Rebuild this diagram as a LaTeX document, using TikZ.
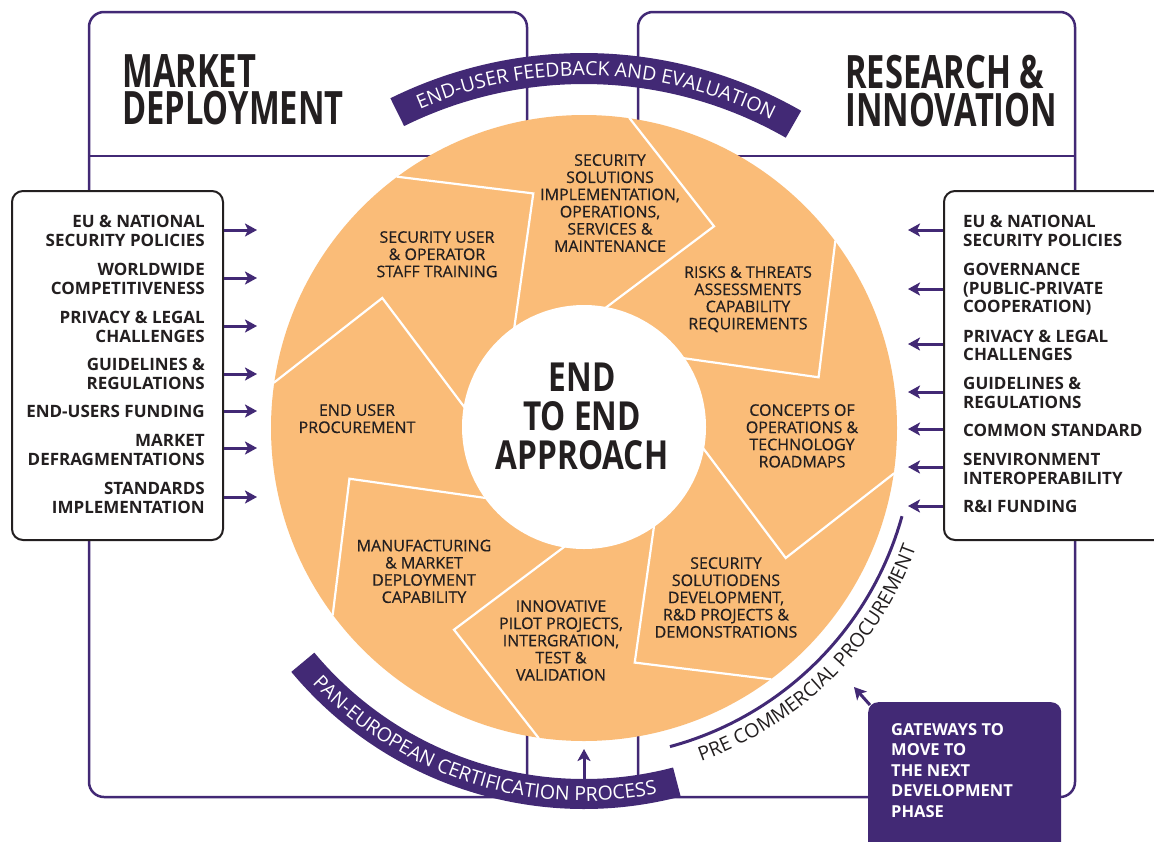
\documentclass[tikz,border=0pt]{standalone}
\usepackage{fontspec}
\setmainfont{Open Sans}
\newfontfamily\condfont{Open Sans}[FakeStretch=0.71]
\newfontfamily\corefont{Open Sans}[FakeStretch=0.79]
\newfontfamily\segfont{Open Sans}[FakeBold=0.5]
\usetikzlibrary{arrows.meta,decorations.text}
\definecolor{pur}{RGB}{66,41,117}
\definecolor{org}{RGB}{250,188,120}
\definecolor{ink}{RGB}{35,31,32}
\newcommand{\bandfont}{\fontsize{19.5}{19.5}\selectfont}
\begin{document}
\begin{tikzpicture}[x=1pt,y=1pt,
  frame/.style={draw=pur,line width=2.5pt,rounded corners=15pt},
  divider/.style={draw=pur,line width=2.5pt},
  sidebox/.style={draw=ink,line width=2pt,rounded corners=11pt,fill=white,inner sep=0pt,anchor=north west},
  sep/.style={draw=white,line width=2.2pt},
  seglabel/.style={anchor=north,inner sep=0pt,align=center,font=\segfont\fontsize{16}{17.2}\selectfont,text=ink},
  lefttxt/.style={anchor=north east,inner sep=0pt,align=right,font=\fontsize{17}{18.7}\selectfont\bfseries,text=ink},
  righttxt/.style={anchor=north west,inner sep=0pt,align=left,font=\fontsize{17}{18.7}\selectfont\bfseries,text=ink},
  title/.style={anchor=north west,inner sep=0pt,align=left,font=\condfont\bfseries\fontsize{46}{37.5}\selectfont,text=ink},
  inarrow/.style={draw=pur,line width=3pt,-{Stealth[length=12pt,width=13pt,inset=3pt]}},
  band/.style={fill=pur},
]
\useasboundingbox (0,0) rectangle (1154,-841);
\fill[white] (0,0) rectangle (1154,-841);

% frames
\draw[frame] (89,-12) rectangle (527,-797);
\draw[divider] (89,-156) -- (527,-156);
\draw[frame] (638,-12) rectangle (1075,-797);
\draw[divider] (638,-156) -- (1075,-156);

% titles
\node[title] (tmd) at (122,-54) {MARKET\\DEPLOYMENT};
\node[title] (tri) at (845,-55) {RESEARCH \&\\INNOVATION};

% disk
\node[circle,fill=org,minimum size=626pt,inner sep=0pt] (disk) at (584,-428) {};
\foreach \t in {0,...,7}{
  \pgfmathsetmacro{\a}{126.7-45*\t}
  \pgfmathsetmacro{\b}{\a-24.5}
  \draw[sep,line join=miter] ([shift={(584,-428)}]\a:118pt) -- ([shift={(584,-428)}]\b:240pt) -- ([shift={(584,-428)}]\a:313.5pt);
}
\node[circle,fill=white,minimum size=244pt,inner sep=0pt] (core) at (584,-427) {};
\node[anchor=north,inner sep=0pt,align=center,font=\corefont\bfseries\fontsize{40}{38.8}\selectfont,text=ink] (coretxt) at (582,-363) {END\\TO END\\APPROACH};

% segment labels
\node[seglabel] (s1) at (610,-154) {SECURITY\\SOLUTIONS\\IMPLEMENTATION,\\OPERATIONS,\\SERVICES \&\\MAINTENANCE};
\node[seglabel] (s2) at (437,-231) {SECURITY USER\\\& OPERATOR\\STAFF TRAINING};
\node[seglabel] (s3) at (748,-266) {RISKS \& THREATS\\ASSESSMENTS\\CAPABILITY\\REQUIREMENTS};
\node[seglabel] (s4) at (802,-404) {CONCEPTS OF\\OPERATIONS \&\\TECHNOLOGY\\ROADMAPS};
\node[seglabel] (s5) at (726,-557) {SECURITY\\SOLUTIODENS\\DEVELOPMENT,\\R\&D PROJECTS \&\\DEMONSTRATIONS};
\node[seglabel] (s6) at (561,-600) {INNOVATIVE\\PILOT PROJECTS,\\INTERGRATION,\\TEST \&\\VALIDATION};
\node[seglabel] (s7) at (424,-539.5) {MANUFACTURING\\\& MARKET\\DEPLOYMENT\\CAPABILITY};
\node[seglabel] (s8) at (357,-404) {END USER\\PROCUREMENT};

% feedback band
\fill[band] ([shift={(584,-490)}]60.2:406pt) arc[start angle=60.2,end angle=116.3,radius=406pt]
  -- ([shift={(584,-490)}]116.3:437pt) arc[start angle=116.3,end angle=60.2,radius=437pt] -- cycle;
\path[decorate,decoration={text along path,text={|\bandfont|END-USER FEEDBACK AND EVALUATION},text align=center,text color=white}]
  ([shift={(584,-490)}]116.3:414.5pt) arc[start angle=116.3,end angle=60.2,radius=414.5pt];

% pan-european band
\fill[band] ([shift={(584,-428)}]-140.2:351pt) arc[start angle=-140.2,end angle=-75.3,radius=351pt]
  -- ([shift={(584,-428)}]-75.3:381pt) arc[start angle=-75.3,end angle=-140.2,radius=381pt] -- cycle;
\path[decorate,decoration={text along path,text={|\bandfont|PAN-EUROPEAN CERTIFICATION PROCESS},text align=center,text color=white}]
  ([shift={(584,-428)}]-139.5:373pt) arc[start angle=-139.5,end angle=-76,radius=373pt];

% pre commercial procurement
\draw[pur,line width=3pt] ([shift={(584,-428)}]-74.9:330pt) arc[start angle=-74.9,end angle=-15.5,radius=330pt];
\path[decorate,decoration={text along path,text={|\bandfont|PRE COMMERCIAL PROCUREMENT},text align=center,text color=ink}]
  ([shift={(584,-428)}]-75:353pt) arc[start angle=-75,end angle=-15.5,radius=353pt];

% up arrow
\coordinate (upbase) at (584,-779);
\coordinate (uptip) at (584,-749);
\draw[inarrow] (upbase) -- (uptip);

% side boxes
\node[sidebox,minimum width=211pt,minimum height=349pt] (lbox) at (11,-190) {};
\node[sidebox,minimum width=240pt,minimum height=349pt] (rbox) at (943,-190) {};

\node[lefttxt] (l1) at (205,-215) {EU \& NATIONAL\\SECURITY POLICIES};
\node[lefttxt] (l2) at (205,-263) {WORLDWIDE\\COMPETITIVENESS};
\node[lefttxt] (l3) at (205,-311) {PRIVACY \& LEGAL\\CHALLENGES};
\node[lefttxt] (l4) at (205,-358) {GUIDELINES \&\\REGULATIONS};
\node[lefttxt] (l5) at (205,-405) {END-USERS FUNDING};
\node[lefttxt] (l6) at (205,-434.5) {MARKET\\DEFRAGMENTATIONS};
\node[lefttxt] (l7) at (205,-482) {STANDARDS\\IMPLEMENTATION};

\node[righttxt] (r1) at (963,-215) {EU \& NATIONAL\\SECURITY POLICIES};
\node[righttxt] (r2) at (963,-263) {GOVERNANCE\\(PUBLIC-PRIVATE\\COOPERATION)};
\node[righttxt] (r3) at (963,-329.5) {PRIVACY \& LEGAL\\CHALLENGES};
\node[righttxt] (r4) at (963,-377) {GUIDELINES \&\\REGULATIONS};
\node[righttxt] (r5) at (963,-423.5) {COMMON STANDARD};
\node[righttxt] (r6) at (963,-453) {SENVIRONMENT\\INTEROPERABILITY};
\node[righttxt] (r7) at (963,-500) {R\&I FUNDING};

\foreach \n/\y in {1/230,2/278,3/326,4/374,5/411,6/448,7/497}{
  \coordinate (la\n) at (257,-\y);
  \draw[inarrow] (lbox.east |- la\n) -- (la\n);
}
\foreach \n/\y in {1/230,2/289,3/344,4/392,5/429,6/467,7/506}{
  \coordinate (ra\n) at (908,-\y);
  \draw[inarrow] (rbox.west |- ra\n) -- (ra\n);
}

% gateways
\node[fill=pur,rounded corners=10pt,minimum width=193pt,minimum height=160pt,inner sep=0pt,anchor=north west] (gate) at (868,-702) {};
\node[anchor=north west,inner sep=0pt,align=left,font=\fontsize{16.5}{20.6}\selectfont\bfseries,text=white] (gatetxt) at (891,-723) {GATEWAYS TO\\MOVE TO\\THE NEXT\\DEVELOPMENT\\PHASE};
\coordinate (gtip) at (854,-687);
\draw[inarrow] ([xshift=2pt,yshift=-3pt]gate.north west) -- (gtip);
\end{tikzpicture}
\end{document}
